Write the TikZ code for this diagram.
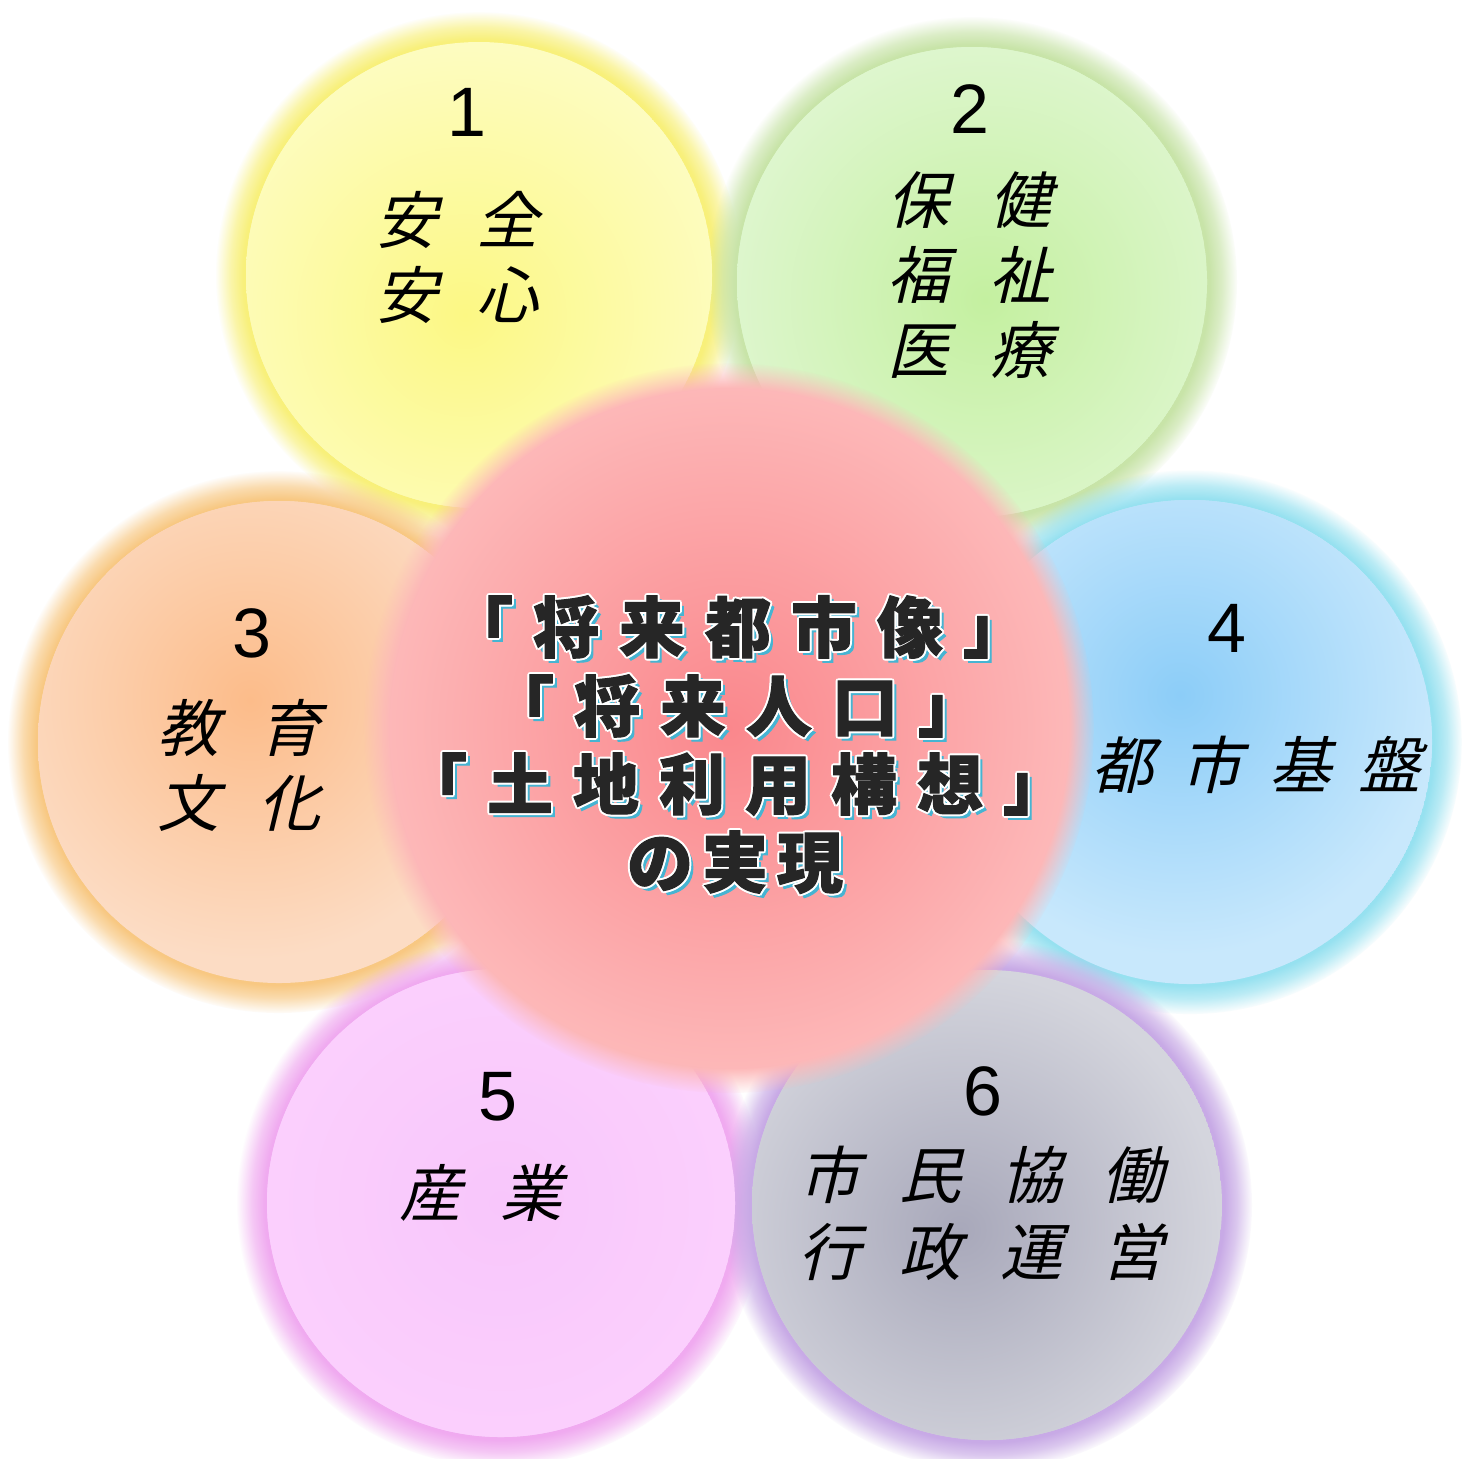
\documentclass[tikz,border=0pt]{standalone}
\usepackage{fontspec}
\newfontfamily\jp{Noto Sans CJK JP}[FakeSlant=0.24]
\newfontfamily\jpb{Noto Sans CJK JP}[FakeBold=1.5]
\newfontfamily\numf{Liberation Sans}
\usetikzlibrary{fadings,calc}

\makeatletter
\newcommand\spaced[2]{\begingroup\def\sp@f{1}\@tfor\sp@c:=#2\do{\ifx\sp@f\@empty\hspace*{#1}\fi\def\sp@f{}\sp@c}\endgroup}
\makeatother
\newcommand\lay[3]{\rlap{\kern#1\raisebox{#2}{#3}}}
\newcommand\fancy[1]{%
  \lay{2pt}{-2pt}{\color{shblue}#1}%
  \lay{1pt}{0pt}{\color{white}#1}\lay{-1pt}{0pt}{\color{white}#1}%
  \lay{0pt}{1pt}{\color{white}#1}\lay{0pt}{-1pt}{\color{white}#1}%
  \lay{.75pt}{.75pt}{\color{white}#1}\lay{-.75pt}{.75pt}{\color{white}#1}%
  \lay{.75pt}{-.75pt}{\color{white}#1}\lay{-.75pt}{-.75pt}{\color{white}#1}%
  {\color{txt}#1}}

\pgfdeclareradialshading{glowshade}{\pgfpointorigin}{color(0bp)=(pgftransparent!0); color(22.3bp)=(pgftransparent!0); color(23.5bp)=(pgftransparent!35); color(25bp)=(pgftransparent!100); color(50bp)=(pgftransparent!100)}
\pgfdeclarefading{glowfade}{\pgfuseshading{glowshade}}
\pgfdeclareradialshading{centershade}{\pgfpointorigin}{color(0bp)=(pgftransparent!0); color(23.2bp)=(pgftransparent!0); color(25bp)=(pgftransparent!100); color(50bp)=(pgftransparent!100)}
\pgfdeclarefading{centerfade}{\pgfuseshading{centershade}}

\definecolor{gY}{HTML}{F8F07A}\definecolor{eY}{HTML}{FDFCC0}\definecolor{cY}{HTML}{FCF884}
\definecolor{gG}{HTML}{C8E4A8}\definecolor{eG}{HTML}{DEF6CE}\definecolor{cG}{HTML}{C4F0A0}
\definecolor{gO}{HTML}{F8C882}\definecolor{eO}{HTML}{FCDCC4}\definecolor{cO}{HTML}{FCBC8A}
\definecolor{gB}{HTML}{96E1F0}\definecolor{eB}{HTML}{C8E8FC}\definecolor{cB}{HTML}{8CCDF8}
\definecolor{gP}{HTML}{F0AAF0}\definecolor{eP}{HTML}{FBD0FD}\definecolor{cP}{HTML}{F8C6FB}
\definecolor{gV}{HTML}{C8AAE6}\definecolor{eV}{HTML}{D4D5DD}\definecolor{cV}{HTML}{A8A8BA}
\definecolor{eR}{HTML}{FDBBBB}\definecolor{cR}{HTML}{FA878C}
\definecolor{shblue}{HTML}{46B4D2}\definecolor{txt}{HTML}{262626}

\newcommand\petalglow[4]{\fill[#4, path fading=glowfade] (#1,#2) circle[radius=#3];}
\newcommand\petaldisk[8]{%
  \begin{scope}
    \clip (#1,#2) circle[radius=#3];
    \fill[#4] (#1,#2) circle[radius=#3];
    \shade[inner color=#5, outer color=#4] (#6,#7) circle[radius=#8];
  \end{scope}}

\tikzset{
  ctr/.style={font=\jpb\bfseries\fontsize{33}{40}\selectfont, inner sep=0pt, text height=29pt, text depth=4pt},
  ojp/.style={font=\jp\fontsize{31}{36}\selectfont, inner sep=0pt, text height=27.3pt, text depth=3.7pt, text=black},
  onum/.style={font=\numf\fontsize{35}{40}\selectfont, inner sep=0pt, text height=25.2pt, text depth=0pt, text=black}
}

\begin{document}
\begin{tikzpicture}[x=0.5pt,y=-0.5pt]
\useasboundingbox (0,0) rectangle (1466,1458);
\fill[white] (0,0) rectangle (1466,1458);

% glows
\petalglow{479}{275}{263}{gY}
\petalglow{972}{282}{265}{gG}
\petalglow{279}{742}{271}{gO}
\petalglow{1190}{742}{272}{gB}
\petalglow{501}{1203}{264}{gP}
\petalglow{987}{1205}{265}{gV}

% disks
\petaldisk{479}{275}{233}{eY}{cY}{465}{315}{270}
\petaldisk{972}{282}{235}{eG}{cG}{985}{300}{260}
\petaldisk{279}{742}{241}{eO}{cO}{250}{700}{260}
\petaldisk{1190}{742}{242}{eB}{cB}{1180}{695}{260}
\petaldisk{501}{1203}{234}{eP}{cP}{501}{1203}{250}
\petaldisk{987}{1205}{235}{eV}{cV}{960}{1230}{260}

% centre disk
\shade[inner color=cR, outer color=eR, path fading=centerfade] (729,728) circle[radius=365];

% numbers
\node[onum] (n1) at (467,111) {1};
\node[onum] (n2) at (970,108) {2};
\node[onum] (n3) at (252,632) {3};
\node[onum] (n4) at (1227,627) {4};
\node[onum] (n5) at (498,1095) {5};
\node[onum] (n6) at (983,1090) {6};

% outer texts
\node[ojp] (t1a) at (457,220) {\spaced{19.5pt}{安全}};
\node[ojp] (t1b) at (457,295) {\spaced{19.5pt}{安心}};
\node[ojp] (t2a) at (969,200) {\spaced{20pt}{保健}};
\node[ojp] (t2b) at (969,275) {\spaced{20pt}{福祉}};
\node[ojp] (t2c) at (969,350) {\spaced{20pt}{医療}};
\node[ojp] (t3a) at (239,728) {\spaced{20pt}{教育}};
\node[ojp] (t3b) at (239,803) {\spaced{20pt}{文化}};
\node[ojp] (t4a) at (1256,765) {\spaced{13.5pt}{都市基盤}};
\node[ojp] (t5a) at (481,1193) {\spaced{20pt}{産業}};
\node[ojp] (t6a) at (981,1175) {\spaced{19.5pt}{市民協働}};
\node[ojp] (t6b) at (981,1252) {\spaced{19.5pt}{行政運営}};

% centre text
\node[ctr] (c1) at (738,627) {\fancy{\spaced{10pt}{「将来都市像」}}};
\node[ctr] (c2) at (736,706) {\fancy{\spaced{10pt}{「将来人口」}}};
\node[ctr] (c3) at (735,784) {\fancy{\spaced{10pt}{「土地利用構想」}}};
\node[ctr] (c4) at (735,862) {\fancy{\spaced{4.5pt}{の実現}}};
\end{tikzpicture}
\end{document}
